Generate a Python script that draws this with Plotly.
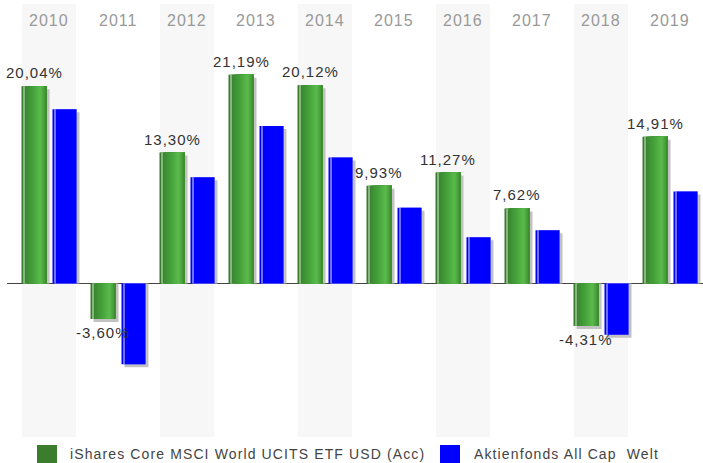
import plotly.graph_objects as go

years = ["2010", "2011", "2012", "2013", "2014", "2015", "2016", "2017", "2018", "2019"]
etf_values = [20.04, -3.60, 13.30, 21.19, 20.12, 9.93, 11.27, 7.62, -4.31, 14.91]
fund_values = [17.7, -8.2, 10.8, 16.0, 12.8, 7.7, 4.7, 5.4, -5.2, 9.35]
series_names = ["iShares Core MSCI World UCITS ETF USD (Acc)", "Aktienfonds All Cap  Welt"]

W, H = 703, 463
ML, MR, MT, MB = 7, 0, 4, 26
PX_PER_UNIT = 69.0          # x pixels per category
Y_TOP, Y_BOT = 28.38, -15.58
PX_PER_PCT = (H - MT - MB) / (Y_TOP - Y_BOT)
X0 = -(49 - ML) / PX_PER_UNIT
X1 = X0 + (W - ML - MR) / PX_PER_UNIT

def u(px):
    return px / PX_PER_UNIT

GREEN_OFF, GREEN_W = u(-27.5), u(25)
BLUE_OFF, BLUE_W = u(3.5), u(24)
SHADOW = "#c2c2c2"
FONT = "Liberation Sans, Arial, sans-serif"

def spaced(t, sp=1):
    return f'<span style="letter-spacing:{sp}px">{t}</span>'

def hex2rgb(h):
    h = h.lstrip("#")
    return [int(h[i:i + 2], 16) for i in (0, 2, 4)]

def interp(stops, p):
    for (p0, c0), (p1, c1) in zip(stops, stops[1:]):
        if p0 <= p <= p1:
            t = 0 if p1 == p0 else (p - p0) / (p1 - p0)
            a, b = hex2rgb(c0), hex2rgb(c1)
            return "rgb(%d,%d,%d)" % tuple(round(a[i] + (b[i] - a[i]) * t) for i in range(3))
    return stops[-1][1]

green_stops = [(0, "#377b2b"), (3, "#3a8330"), (11, "#44a03a"), (19, "#5bbb4c"), (25, "#3c8a30")]

fig = go.Figure()

# shaded bands
for i, _ in enumerate(years):
    if i % 2 == 0:
        fig.add_shape(type="rect", xref="x", yref="paper", x0=i - u(27), x1=i + u(27),
                      y0=0, y1=1, fillcolor="#f7f7f7", line_width=0, layer="below")

# shadows
shadow_shift = 3 / PX_PER_PCT
fig.add_trace(go.Bar(x=years, y=[v - shadow_shift for v in etf_values], offset=GREEN_OFF + u(3),
                     width=GREEN_W, marker=dict(color=SHADOW, line_width=0), showlegend=False,
                     hoverinfo="skip"))
fig.add_trace(go.Bar(x=years, y=[v - shadow_shift for v in fund_values], offset=BLUE_OFF + u(3),
                     width=BLUE_W, marker=dict(color=SHADOW, line_width=0), showlegend=False,
                     hoverinfo="skip"))

# green bars built from one-pixel strips for a gradient
for px in range(25):
    col = "#d6ead0" if px == 2 else interp(green_stops, px + 0.5)
    fig.add_trace(go.Bar(x=years, y=etf_values, offset=GREEN_OFF + u(px), width=GREEN_W - u(px),
                         marker=dict(color=col, line_width=0), showlegend=False,
                         name=series_names[0]))

# blue bars with thin white line
for px, col in [(0, "#0000ff"), (2, "#dcdcff"), (3, "#0000ff")]:
    fig.add_trace(go.Bar(x=years, y=fund_values, offset=BLUE_OFF + u(px), width=BLUE_W - u(px),
                         marker=dict(color=col, line_width=0), showlegend=False,
                         name=series_names[1]))

# value labels on the ETF bars
for i, v in enumerate(etf_values):
    lab = f"{v:.2f}".replace(".", ",") + "%"
    fig.add_annotation(x=i, y=v, xshift=-15, text=spaced(lab), showarrow=False,
                       yanchor="bottom" if v >= 0 else "top",
                       yshift=3 if v >= 0 else -3,
                       font=dict(family=FONT, size=15, color="#333333"))

# year labels at top
for i, yr in enumerate(years):
    fig.add_annotation(x=i, y=1, yref="paper", yanchor="top", yshift=-6, text=spaced(yr),
                       showarrow=False, font=dict(family=FONT, size=16, color="#999999"))

# legend (drawn manually)
pw, ph = W - ML - MR, H - MT - MB
def px_x(px):
    return (px - ML) / pw
def px_y(py):
    return (H - MB - py) / ph

for (sx, tx, col, name) in [(37, 68, "#3a7d2c", series_names[0]), (440, 472, "#0000ff", series_names[1])]:
    fig.add_shape(type="rect", xref="paper", yref="paper", x0=px_x(sx), x1=px_x(sx + 20),
                  y0=px_y(445), y1=px_y(463), fillcolor=col, line_width=0)
    fig.add_annotation(xref="paper", yref="paper", x=px_x(tx), y=px_y(454), xanchor="left",
                       yanchor="middle", text=spaced(name, 1.12), showarrow=False,
                       font=dict(family=FONT, size=14, color="#444444"))

fig.update_layout(
    width=W, height=H, margin=dict(l=ML, r=MR, t=MT, b=MB),
    barmode="overlay", plot_bgcolor="white", paper_bgcolor="white", showlegend=False,
    xaxis=dict(type="category", range=[X0, X1], showticklabels=False, showgrid=False,
               zeroline=False, fixedrange=True),
    yaxis=dict(range=[Y_BOT, Y_TOP], showticklabels=False, showgrid=False, zeroline=True,
               zerolinecolor="#444444", zerolinewidth=1, fixedrange=True),
)

fig.write_html("out.html", config={"displayModeBar": False},
               post_script="document.body.style.margin='0px';document.body.style.overflow='hidden';")
